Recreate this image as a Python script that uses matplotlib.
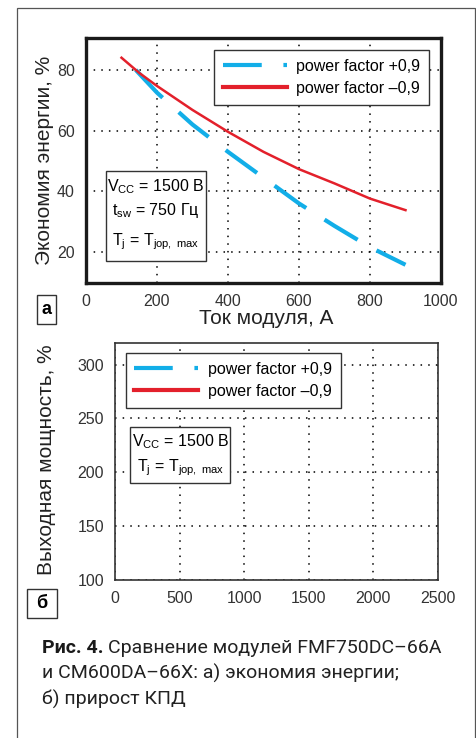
import matplotlib
matplotlib.use('Agg')
import matplotlib.pyplot as plt
from matplotlib.patches import Rectangle
from matplotlib.lines import Line2D

W, H = 477, 738

# данные панели а
current_red = [100, 150, 200, 300, 400, 500, 600, 700, 800, 900]
saving_red = [84, 79, 74.7, 66.8, 59.6, 53, 47.3, 42.6, 37.6, 33.8]
current_blue = [140, 200, 300, 400, 500, 600, 700, 800, 900]
saving_blue = [80, 72.5, 62, 53, 44.5, 36, 28.6, 21.6, 15.8]

xticks_a = [0, 200, 400, 600, 800, 1000]
yticks_a = [20, 40, 60, 80]
xticks_b = [0, 500, 1000, 1500, 2000, 2500]
yticks_b = [100, 150, 200, 250, 300]

labels = ['power factor +0,9', 'power factor \u20130,9']

BLUE = '#12aee8'
RED = '#e3202b'
DASH = (0, (9.3, 5.2))

plt.rcParams['font.family'] = ['Liberation Sans', 'DejaVu Sans']
plt.rcParams['mathtext.fontset'] = 'custom'
plt.rcParams['mathtext.rm'] = 'Liberation Sans'
plt.rcParams['mathtext.it'] = 'Liberation Sans:italic'


def fx(x):
    return x / W


def fy(y):
    return 1 - y / H


fig = plt.figure(figsize=(W / 100, H / 100), dpi=100)

# внешняя рамка
fig.add_artist(Rectangle((fx(17), fy(760)), fx(475) - fx(17), fy(8) - fy(760),
                         transform=fig.transFigure, fill=False, ec='#555555', lw=0.9))

grid_kw = dict(color='black', linestyle=(0, (1, 4)), linewidth=1.1)

# ---------- панель а ----------
ax = fig.add_axes([fx(86), fy(283), fx(441) - fx(86), fy(38) - fy(283)])
ax.plot(current_blue, saving_blue, color=BLUE, lw=3.0, linestyle=DASH,
        solid_capstyle='butt', dash_capstyle='butt')
ax.plot(current_red, saving_red, color=RED, lw=1.8)
ax.set_xlim(0, 1000)
ax.set_ylim(9.8, 90.5)
ax.set_xticks(xticks_a)
ax.set_yticks(yticks_a)
ax.tick_params(length=0, labelsize=11.5, labelcolor='#333333', pad=8)
ax.grid(True, **grid_kw)
for s in ax.spines.values():
    s.set_linewidth(2.4)
    s.set_color('#1a1a1a')

h_blue = Line2D([], [], color=BLUE, lw=3.0, linestyle=DASH, dash_capstyle='butt')
h_red = Line2D([], [], color=RED, lw=3.0)
leg_kw = dict(fontsize=11.5, handlelength=4.0, fancybox=False, framealpha=1,
              edgecolor='#333333', borderpad=0.55, labelspacing=0.45,
              handletextpad=0.6, borderaxespad=0)
leg = ax.legend([h_blue, h_red], labels, loc='upper right',
                bbox_to_anchor=(fx(429), fy(50)), bbox_transform=fig.transFigure, **leg_kw)
leg.get_frame().set_linewidth(1.0)

fig.add_artist(Rectangle((fx(106), fy(261)), fx(206) - fx(106), fy(171) - fy(261),
                         transform=fig.transFigure, fc='white', ec='#333333', lw=1.0))
fig.text(fx(156), fy(187), r'V$_{\rm CC}$ = 1500 В', ha='center', va='center', fontsize=11.5)
fig.text(fx(156), fy(211), r't$_{\rm sw}$ = 750 Гц', ha='center', va='center', fontsize=11.5)
fig.text(fx(156), fy(242), r'T$_{\rm j}$ = T$_{\rm jop,\ max}$', ha='center', va='center', fontsize=11.5)

fig.text(fx(45), fy(160), 'Экономия энергии, %', rotation=90, ha='center', va='center',
         fontsize=15, color='#222222')
fig.text(fx(266), fy(318), 'Ток модуля, А', ha='center', va='center', fontsize=15,
         color='#222222')

fig.add_artist(Rectangle((fx(37), fy(324)), fx(56) - fx(37), fy(295) - fy(324),
                         transform=fig.transFigure, fc='white', ec='#333333', lw=1.0))
fig.text(fx(46.5), fy(310), 'а', ha='center', va='center', fontsize=13, fontweight='bold')

# ---------- панель б ----------
bx = fig.add_axes([fx(115), fy(580), fx(438) - fx(115), fy(343) - fy(580)])
bx.set_xlim(0, 2500)
bx.set_ylim(100, 320)
bx.set_xticks(xticks_b)
bx.set_yticks(yticks_b)
bx.tick_params(length=0, labelsize=11.5, labelcolor='#333333', pad=8)
bx.grid(True, **grid_kw)
for s in bx.spines.values():
    s.set_linewidth(1.2)
    s.set_color('#333333')

leg2 = bx.legend([h_blue, h_red], labels, loc='upper left',
                 bbox_to_anchor=(fx(125.7), fy(353)), bbox_transform=fig.transFigure, **leg_kw)
leg2.get_frame().set_linewidth(1.0)

fig.add_artist(Rectangle((fx(130), fy(483)), fx(230) - fx(130), fy(427) - fy(483),
                         transform=fig.transFigure, fc='white', ec='#333333', lw=1.0))
fig.text(fx(181), fy(442), r'V$_{\rm CC}$ = 1500 В', ha='center', va='center', fontsize=11.5)
fig.text(fx(181), fy(468), r'T$_{\rm j}$ = T$_{\rm jop,\ max}$', ha='center', va='center', fontsize=11.5)

fig.text(fx(47), fy(460), 'Выходная мощность, %', rotation=90, ha='center', va='center',
         fontsize=15, color='#222222')

fig.add_artist(Rectangle((fx(27), fy(618)), fx(57) - fx(27), fy(589) - fy(618),
                         transform=fig.transFigure, fc='white', ec='#333333', lw=1.0))
fig.text(fx(42), fy(604), 'б', ha='center', va='center', fontsize=13, fontweight='bold')

# ---------- подпись ----------
cap_font = ['Roboto', 'DejaVu Sans']
t_bold = fig.text(fx(42), fy(653), 'Рис. 4.', fontsize=14, fontweight='bold',
                  family=cap_font, va='baseline', color='#1a1a1a')
fig.canvas.draw()
bb = t_bold.get_window_extent()
fig.text(bb.x1 / W + fx(5), fy(653), 'Сравнение модулей FMF750DC\u201366A', fontsize=14,
         family=cap_font, va='baseline', color='#222222')
fig.text(fx(42), fy(679), 'и CM600DA\u201366X: а) экономия энергии;', fontsize=14,
         family=cap_font, va='baseline', color='#222222')
fig.text(fx(42), fy(705), 'б) прирост КПД', fontsize=14,
         family=cap_font, va='baseline', color='#222222')

fig.savefig('out.png', dpi=100)
